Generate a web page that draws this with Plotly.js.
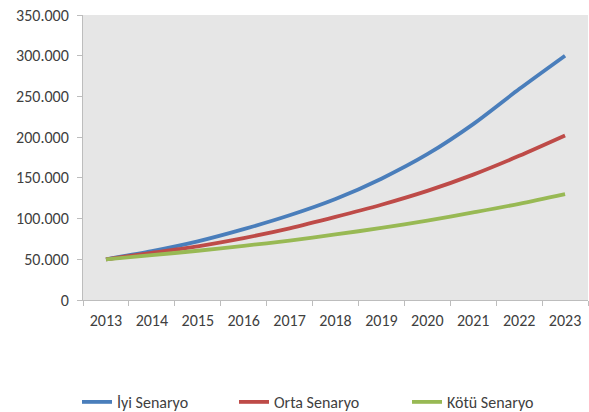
<!DOCTYPE html>
<html>
<head>
<meta charset="utf-8">
<script src="https://cdn.plot.ly/plotly-3.0.1.min.js"></script>
<style>html,body{margin:0;padding:0;background:#fff;}#chart{width:589px;height:412px;}</style>
</head>
<body>
<div id="chart"></div>
<script>
const years = ['2013','2014','2015','2016','2017','2018','2019','2020','2021','2022','2023'];
const iyi   = [50000, 60000, 72000, 87000, 104000, 124000, 149000, 179000, 216000, 259000, 300000];
const orta  = [50000, 58000, 66000, 76000, 88000, 102000, 117000, 134000, 154000, 177000, 202000];
const kotu  = [50000, 55000, 60500, 66500, 73000, 80500, 88500, 97500, 107500, 118000, 130000];
const names = ['İyi Senaryo', 'Orta Senaryo', 'Kötü Senaryo'];
const colors = ['#4A7EBB', '#BE4B48', '#98B954'];

const font = "Carlito, Lato, 'Open Sans', sans-serif";
const series = [iyi, orta, kotu];
const legendIds = ['legend', 'legend2', 'legend3'];
const traces = series.map((s, i) => ({
  type: 'scatter', mode: 'lines', x: years, y: s, name: names[i],
  line: {color: colors[i], width: 3.8, shape: 'spline', smoothing: 0.8},
  legend: legendIds[i], hoverinfo: 'skip'
}));

const legBase = {orientation: 'h', xref: 'paper', yref: 'container', yanchor: 'middle',
  xanchor: 'left', bgcolor: 'rgba(0,0,0,0)', font: {family: font, size: 16, color: '#404040'},
  itemwidth: 30, tracegroupgap: 0};
const legX = [77, 234, 407];
const plotL = 83, plotW = 505;

const layout = {
  width: 589, height: 412,
  margin: {l: plotL, r: 1, t: 15, b: 112},
  paper_bgcolor: '#ffffff', plot_bgcolor: '#E6E6E6',
  separators: ',.',
  font: {family: font, size: 16, color: '#404040'},
  xaxis: {type: 'category', range: [-0.5, 10.5], showgrid: false, zeroline: false,
    showline: true, linecolor: '#BDBDBD', linewidth: 1,
    ticks: 'outside', tickson: 'boundaries', ticklen: 5, tickcolor: '#BDBDBD',
    tickfont: {family: font, size: 16, color: '#404040'}, ticklabelstandoff: 6, fixedrange: true},
  yaxis: {range: [0, 350000], dtick: 50000, tickformat: ',d', showgrid: false, zeroline: false,
    showline: true, linecolor: '#BDBDBD', linewidth: 1,
    ticks: 'outside', ticklen: 5, tickcolor: '#BDBDBD',
    tickfont: {family: font, size: 16, color: '#404040'}, ticklabelstandoff: 5, fixedrange: true},
  showlegend: true
};
legendIds.forEach((id, i) => {
  layout[id] = Object.assign({}, legBase, {x: (legX[i] - plotL) / plotW, y: (412 - 402) / 412});
});

Plotly.newPlot('chart', traces, layout, {displayModeBar: false, staticPlot: true});
</script>
</body>
</html>
